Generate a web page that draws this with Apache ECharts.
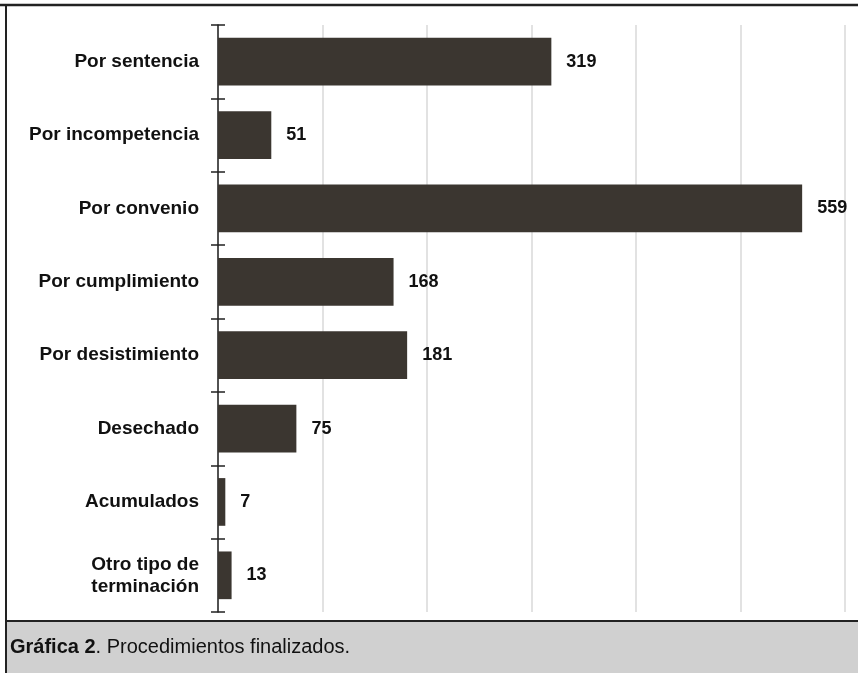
<!DOCTYPE html>
<html><head><meta charset="utf-8">
<script src="https://cdn.jsdelivr.net/npm/echarts@6/dist/echarts.min.js"></script>
<style>html,body{margin:0;padding:0;background:#fff}#c{width:858px;height:673px}</style>
</head><body><div id="c"></div>
<script>
const categories = ['Por sentencia','Por incompetencia','Por convenio','Por cumplimiento','Por desistimiento','Desechado','Acumulados','Otro tipo de\nterminación'];
const values = [319, 51, 559, 168, 181, 75, 7, 13];
const caption = 'Procedimientos finalizados.';

const chart = echarts.init(document.getElementById('c'));
const font = 'Liberation Sans, Arial, sans-serif';
chart.setOption({
  animation: false,
  backgroundColor: '#fff',
  grid: {left: 218, top: 25, right: 13, bottom: 61},
  xAxis: {
    type: 'value', min: 0, max: 600, interval: 100,
    axisLabel: {show: false}, axisLine: {show: false}, axisTick: {show: false},
    splitLine: {show: true, lineStyle: {color: '#e2e2e2', width: 2}}
  },
  yAxis: [{
    type: 'category', inverse: true, data: categories,
    axisLine: {show: true, lineStyle: {color: '#222', width: 1.5}},
    axisTick: {show: true, length: 7, lineStyle: {color: '#222', width: 1.5}},
    axisLabel: {color: '#111', fontFamily: font, fontWeight: 'bold', fontSize: 19, margin: 19, lineHeight: 22, align: 'right'}
  }, {
    type: 'category', inverse: true, data: categories, position: 'left',
    axisLine: {show: false},
    axisTick: {show: true, inside: true, length: 7, lineStyle: {color: '#222', width: 1.5}},
    axisLabel: {show: false}
  }],
  series: [{
    type: 'bar', data: values, barCategoryGap: '35%',
    itemStyle: {color: '#3b3630'},
    label: {show: true, position: 'right', distance: 15, color: '#111', fontFamily: font, fontWeight: 'bold', fontSize: 18}
  }],
  graphic: [
    {type: 'rect', shape: {x: 6, y: 622, width: 852, height: 51}, style: {fill: '#d0d0d0'}},
    {type: 'line', shape: {x1: 0, y1: 5, x2: 858, y2: 5}, style: {stroke: '#222', lineWidth: 2.5}},
    {type: 'line', shape: {x1: 6, y1: 4, x2: 6, y2: 673}, style: {stroke: '#222', lineWidth: 2}},
    {type: 'line', shape: {x1: 6, y1: 621, x2: 858, y2: 621}, style: {stroke: '#222', lineWidth: 2}},
    {type: 'text', left: 10, top: 637, style: {
      text: '{b|Gráfica 2}. ' + caption,
      rich: {b: {fontWeight: 'bold', fontSize: 20, fontFamily: font, fill: '#111'}},
      fontSize: 20, fontFamily: font, fill: '#111'
    }}
  ]
});
</script></body></html>
